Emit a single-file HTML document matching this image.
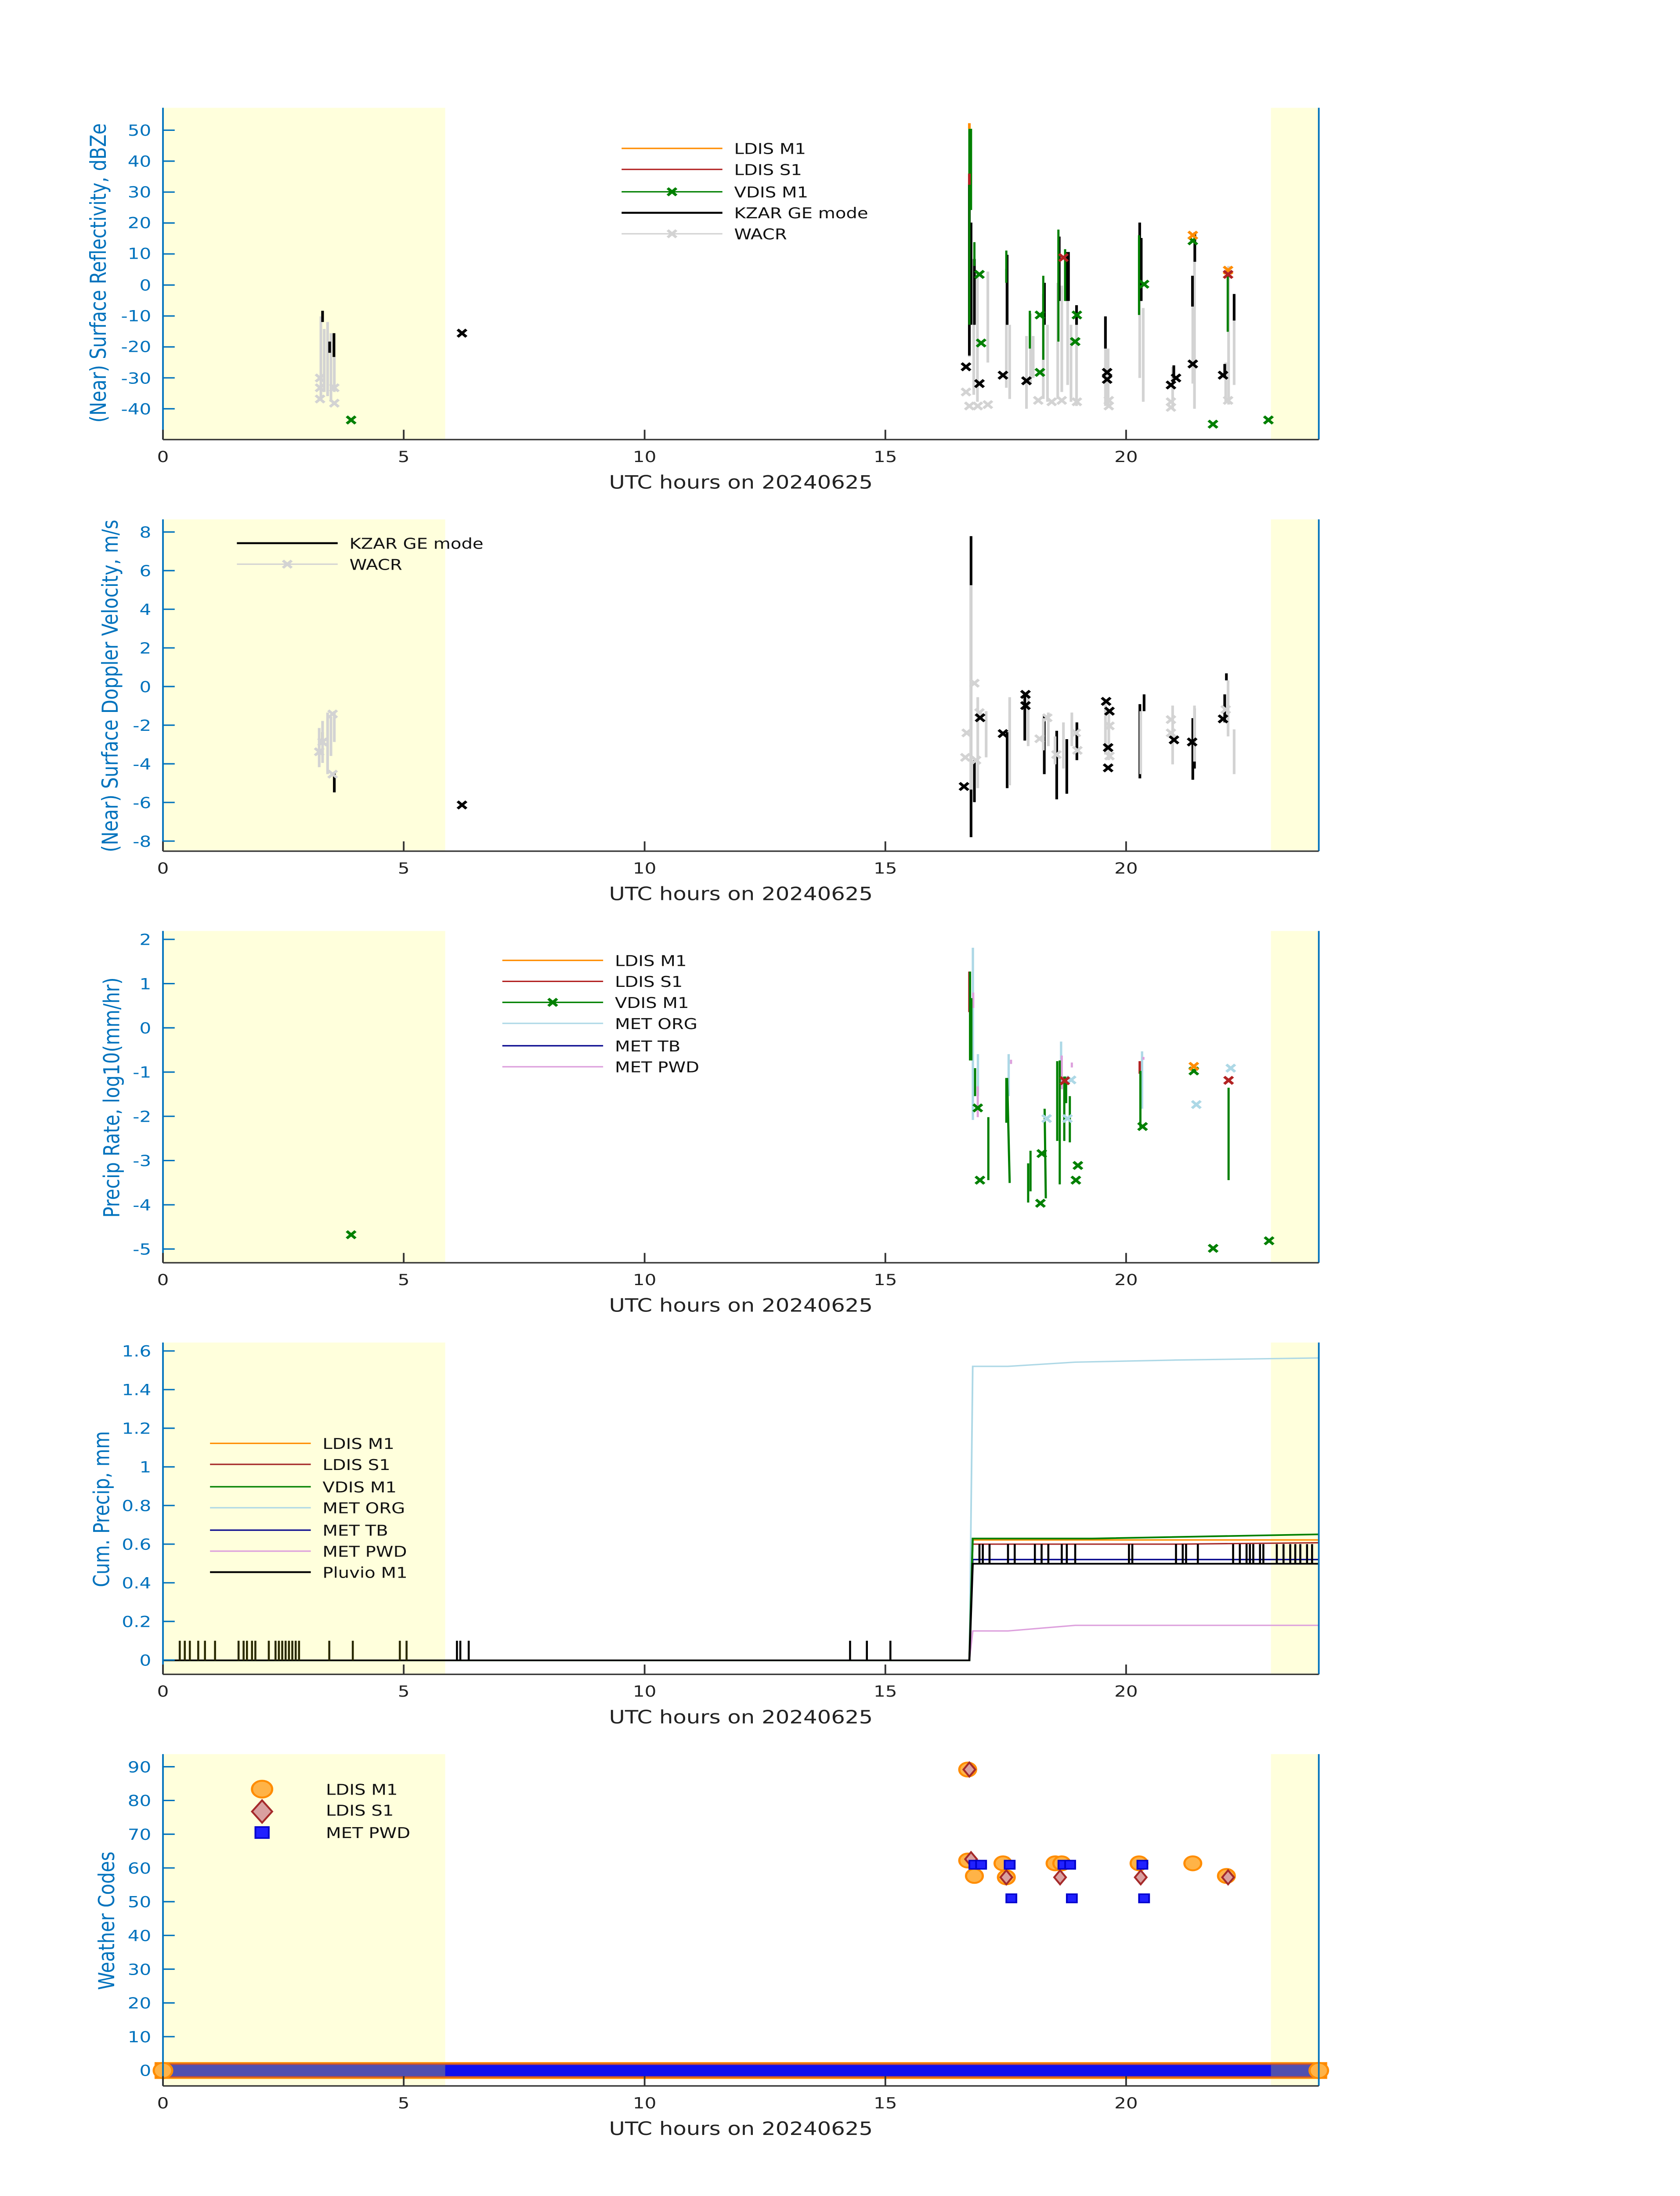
<!DOCTYPE html>
<html><head><meta charset="utf-8"><style>
html,body{margin:0;padding:0;background:#fff;width:100vw;height:100vh;overflow:hidden;}
svg{display:block;width:100vw;height:100vh;}
text{font-family:"DejaVu Sans","Liberation Sans",sans-serif;}
.yt{fill:#0072BD;font-size:11px;text-anchor:end;}
.xt{fill:#222;font-size:11px;text-anchor:middle;}
.xl{fill:#222;font-size:13px;text-anchor:middle;}
.yl{fill:#0072BD;font-size:13px;text-anchor:middle;}
.lg{fill:#111;font-size:10.5px;}
.ax{stroke:#0072BD;stroke-width:1;fill:none;}
.bx{stroke:#333;stroke-width:1;fill:none;}
</style></head><body>
<svg viewBox="0 0 1000 1568.63" preserveAspectRatio="none" xmlns="http://www.w3.org/2000/svg">
<defs>
<path id="xm" d="M-2.6,-2.6L2.6,2.6M-2.6,2.6L2.6,-2.6" stroke-width="1.8" fill="none"/>
</defs>
<rect width="1000" height="1568.63" fill="#fff"/>

<!-- ============ PANEL 1 ============ -->
<rect x="97" y="77" width="168" height="237" fill="#FFFFDC"/>
<rect x="756.5" y="77" width="28.5" height="237" fill="#FFFFDC"/>
<g stroke="#D3D3D3" stroke-width="1.6" fill="none">
<path d="M191,226V285M193,235V280M195,230V283M197,238V287M199,255V280M577,173V255M579.6,185V282M581.8,195V287M588,194V259M599,192V277M601,232V285M611,240V292M613.4,224V274M615,240V270M621,210V285M623.5,232V287M629.6,202V285M632,204V280M635.5,202V275M637.5,232V287M640.8,232V290M658,229V290M659.6,249V289M678.4,188V270M680.5,220V287M698,262V292M710,219V274M711,187V292M729.6,259V287M731.3,190V289M734.6,229V275"/>
</g>
<g stroke="#000" stroke-width="1.6" fill="none">
<path d="M192,222V230M196.2,244V252M198.8,238V255M577,131V254M578,159V232M580,185V232M599.5,182V232M621.7,202V232M630.5,169V215M634.6,180V215M636,180V215M640.8,218V232M658,226V249M678.4,159V188M679.3,170V215M698.7,261V270M709.8,197V219M711.2,166V187M729,260V270M734.6,210V229"/>
</g>
<g stroke="#008000" stroke-width="1.3" fill="none">
<path d="M577,92V232M578,92V150M580,173V190M599,179V202M613,222V249M621,197V257M630,164V244M634,178V215M678,168V225M730.8,195V237"/>
</g>
<path d="M577,88V92" stroke="#FF8C00" stroke-width="1.6"/>
<path d="M577,124V132" stroke="#B22222" stroke-width="1.6"/>
<g stroke="#D3D3D3">
<use href="#xm" x="190.5" y="270"/><use href="#xm" x="190.5" y="277"/><use href="#xm" x="190.5" y="285"/><use href="#xm" x="199" y="277"/><use href="#xm" x="199" y="288"/>
<use href="#xm" x="575" y="280"/><use href="#xm" x="577" y="290"/><use href="#xm" x="582" y="290"/><use href="#xm" x="588" y="289"/><use href="#xm" x="618" y="286"/><use href="#xm" x="626" y="287"/><use href="#xm" x="632" y="286"/><use href="#xm" x="641" y="287"/><use href="#xm" x="660" y="286"/><use href="#xm" x="660" y="290"/><use href="#xm" x="697" y="287"/><use href="#xm" x="697" y="291"/><use href="#xm" x="731" y="286"/>
</g>
<g stroke="#000">
<use href="#xm" x="275" y="238"/><use href="#xm" x="575" y="262"/><use href="#xm" x="597" y="268"/><use href="#xm" x="583" y="274"/><use href="#xm" x="611" y="272"/><use href="#xm" x="659" y="266"/><use href="#xm" x="659" y="271"/><use href="#xm" x="697" y="275"/><use href="#xm" x="700" y="270"/><use href="#xm" x="710" y="260"/><use href="#xm" x="728" y="268"/>
</g>
<g stroke="#008000">
<use href="#xm" x="209" y="300"/><use href="#xm" x="583" y="196"/><use href="#xm" x="584" y="245"/><use href="#xm" x="619" y="225"/><use href="#xm" x="641" y="225"/><use href="#xm" x="640" y="244"/><use href="#xm" x="619" y="266"/><use href="#xm" x="681" y="203"/><use href="#xm" x="710" y="172"/><use href="#xm" x="722" y="303"/><use href="#xm" x="755" y="300"/>
</g>
<g stroke="#FF8C00"><use href="#xm" x="710" y="168"/><use href="#xm" x="731" y="193"/></g>
<g stroke="#B22222"><use href="#xm" x="731" y="196"/><use href="#xm" x="633" y="184"/></g>
<path class="ax" d="M97,77V314M785,77V314"/>
<path class="bx" d="M97,314H785"/>
<path class="bx" d="M97,314V307M240.3,314V307M383.7,314V307M527,314V307M670.3,314V307"/>
<path class="ax" d="M97,93h7M97,115.1h7M97,137.2h7M97,159.3h7M97,181.4h7M97,203.6h7M97,225.7h7M97,247.8h7M97,269.9h7M97,292h7"/>
<g class="yt"><text x="90" y="97">50</text><text x="90" y="119">40</text><text x="90" y="141">30</text><text x="90" y="163">20</text><text x="90" y="185">10</text><text x="90" y="207.5">0</text><text x="90" y="229.5">-10</text><text x="90" y="251.5">-20</text><text x="90" y="274">-30</text><text x="90" y="296">-40</text></g>
<g class="xt"><text x="97" y="330">0</text><text x="240.3" y="330">5</text><text x="383.7" y="330">10</text><text x="527" y="330">15</text><text x="670.3" y="330">20</text></g>
<text class="xl" x="441" y="349">UTC hours on 20240625</text>
<text class="yl" transform="translate(63,195) rotate(-90)">(Near) Surface Reflectivity, dBZe</text>
<path d="M370,106H430" stroke="#FF8C00" stroke-width="1"/><path d="M370,121H430" stroke="#B22222" stroke-width="1"/><path d="M370,137H430" stroke="#008000" stroke-width="1"/><use href="#xm" x="400" y="137" stroke="#008000"/><path d="M370,152H430" stroke="#000" stroke-width="1.4"/><path d="M370,167H430" stroke="#D3D3D3" stroke-width="1"/><use href="#xm" x="400" y="167" stroke="#D3D3D3"/>
<g class="lg"><text x="437" y="110">LDIS M1</text><text x="437" y="125">LDIS S1</text><text x="437" y="141">VDIS M1</text><text x="437" y="156">KZAR GE mode</text><text x="437" y="171">WACR</text></g>

<!-- ============ PANEL 2 ============ -->
<rect x="97" y="371" width="168" height="237" fill="#FFFFDC"/>
<rect x="756.5" y="371" width="28.5" height="237" fill="#FFFFDC"/>
<g stroke="#000" stroke-width="1.6" fill="none">
<path d="M192,523V531M199,552V566M578,383V598M580,543V573M599.5,523V563M610,496V529M621.6,511V553M629,522V571M635,528V567M641,516V543M678.5,503V556M681,496V508M710,513V557M711,506V549M729,496V516M730,481V486"/>
</g>
<g stroke="#D3D3D3" stroke-width="1.6" fill="none">
<path d="M190,520V548M192,515V545M195,509V553M197,512V540M199,508V530M578,418V564M582,498V563M587,508V541M601,498V561M612,496V533M621,513V536M624,509V533M628,526V546M633,516V549M638,509V533M658,503V539M660,509V543M679,508V553M698,504V546M711,504V544M731,486V526M734.6,521V553"/>
</g>
<g stroke="#D3D3D3">
<use href="#xm" x="190" y="537"/><use href="#xm" x="192" y="530"/><use href="#xm" x="198" y="510"/><use href="#xm" x="198" y="553"/>
<use href="#xm" x="580" y="488"/><use href="#xm" x="575.4" y="523.5"/><use href="#xm" x="574.6" y="541"/><use href="#xm" x="581" y="543"/><use href="#xm" x="583" y="509"/><use href="#xm" x="623.4" y="512.7"/><use href="#xm" x="618.8" y="527.7"/><use href="#xm" x="628.8" y="539"/><use href="#xm" x="641.3" y="536"/><use href="#xm" x="640.4" y="523.5"/><use href="#xm" x="660.4" y="518.5"/><use href="#xm" x="660.4" y="540"/><use href="#xm" x="697" y="514"/><use href="#xm" x="697" y="523.5"/><use href="#xm" x="729.6" y="506.8"/>
</g>
<g stroke="#000">
<use href="#xm" x="275" y="575"/><use href="#xm" x="573.8" y="561.8"/><use href="#xm" x="597" y="524"/><use href="#xm" x="610.4" y="496"/><use href="#xm" x="610.4" y="504"/><use href="#xm" x="583.4" y="512.7"/><use href="#xm" x="658.4" y="501"/><use href="#xm" x="660.4" y="508"/><use href="#xm" x="659.6" y="534"/><use href="#xm" x="659.6" y="548.5"/><use href="#xm" x="698.8" y="528.5"/><use href="#xm" x="709.6" y="530"/><use href="#xm" x="728" y="513.5"/>
</g>
<path class="ax" d="M97,371V608M785,371V608"/>
<path class="bx" d="M97,608H785"/>
<path class="bx" d="M97,608V601M240.3,608V601M383.7,608V601M527,608V601M670.3,608V601"/>
<path class="ax" d="M97,380h7M97,407.6h7M97,435.2h7M97,462.8h7M97,490.4h7M97,518h7M97,545.6h7M97,573.2h7M97,600.8h7"/>
<g class="yt"><text x="90" y="384">8</text><text x="90" y="411.6">6</text><text x="90" y="439.2">4</text><text x="90" y="466.8">2</text><text x="90" y="494.4">0</text><text x="90" y="522">-2</text><text x="90" y="549.6">-4</text><text x="90" y="577.2">-6</text><text x="90" y="604.8">-8</text></g>
<g class="xt"><text x="97" y="624">0</text><text x="240.3" y="624">5</text><text x="383.7" y="624">10</text><text x="527" y="624">15</text><text x="670.3" y="624">20</text></g>
<text class="xl" x="441" y="643">UTC hours on 20240625</text>
<text class="yl" transform="translate(70,490) rotate(-90)">(Near) Surface Doppler Velocity, m/s</text>
<path d="M141,388H201" stroke="#000" stroke-width="1.4"/><path d="M141,403H201" stroke="#D3D3D3" stroke-width="1"/><use href="#xm" x="171" y="403" stroke="#D3D3D3"/>
<g class="lg"><text x="208" y="392">KZAR GE mode</text><text x="208" y="407">WACR</text></g>

<!-- ============ PANEL 3 ============ -->
<rect x="97" y="665" width="168" height="237" fill="#FFFFDC"/>
<rect x="756.5" y="665" width="28.5" height="237" fill="#FFFFDC"/>
<g stroke="#ADD8E6" stroke-width="1.4" fill="none">
<path d="M579.1,677V800M582.1,753V783M600.4,753V783M631.6,744V778M679.8,751V792"/>
</g>
<g stroke="#DDA0DD" stroke-width="1.3" fill="none">
<path d="M579.3,709V720M582,776V798M601.8,757V760M632,754V778M638,759V762.5M680.6,755V757"/>
</g>
<g stroke="#B22222" stroke-width="1.4" fill="none"><path d="M577,694V723M678.4,758V767M633.7,770V775"/></g>
<g stroke="#008000" stroke-width="1.3" fill="none">
<path d="M577.4,694V757.5M578.2,713V757.5M580.4,763V783M588.3,798V843M599,770V802M599.5,770L601,845M612,831V859M613.4,822V851M621.8,792L622.5,856M629.3,758V815M630.8,757.5V846M633.5,769V815M634.6,769V788M636.8,783V816M678.8,765V805M731.3,777V843"/>
</g>
<g stroke="#008000">
<use href="#xm" x="209" y="882"/><use href="#xm" x="582" y="791.4"/><use href="#xm" x="583.3" y="843"/><use href="#xm" x="620.1" y="824"/><use href="#xm" x="619.3" y="859.5"/><use href="#xm" x="641.6" y="832.5"/><use href="#xm" x="640.4" y="843"/><use href="#xm" x="680.1" y="804.7"/><use href="#xm" x="710.6" y="765"/><use href="#xm" x="722.1" y="891.7"/><use href="#xm" x="755.4" y="886.3"/>
</g>
<g stroke="#ADD8E6">
<use href="#xm" x="623" y="799"/><use href="#xm" x="635.4" y="799"/><use href="#xm" x="637.6" y="771.4"/><use href="#xm" x="712.1" y="789"/><use href="#xm" x="732.6" y="763"/>
</g>
<use href="#xm" x="710.6" y="761.7" stroke="#FF8C00"/>
<g stroke="#B22222"><use href="#xm" x="731.3" y="771.7"/><use href="#xm" x="633.8" y="772"/></g>
<path class="ax" d="M97,665V902M785,665V902"/>
<path class="bx" d="M97,902H785"/>
<path class="bx" d="M97,902V895M240.3,902V895M383.7,902V895M527,902V895M670.3,902V895"/>
<path class="ax" d="M97,671h7M97,702.6h7M97,734.2h7M97,765.8h7M97,797.4h7M97,829h7M97,860.6h7M97,892.2h7"/>
<g class="yt"><text x="90" y="675">2</text><text x="90" y="706.6">1</text><text x="90" y="738.2">0</text><text x="90" y="769.8">-1</text><text x="90" y="801.4">-2</text><text x="90" y="833">-3</text><text x="90" y="864.6">-4</text><text x="90" y="896.2">-5</text></g>
<g class="xt"><text x="97" y="918">0</text><text x="240.3" y="918">5</text><text x="383.7" y="918">10</text><text x="527" y="918">15</text><text x="670.3" y="918">20</text></g>
<text class="xl" x="441" y="937">UTC hours on 20240625</text>
<text class="yl" transform="translate(71,784) rotate(-90)">Precip Rate, log10(mm/hr)</text>
<path d="M299,686H359" stroke="#FF8C00"/><path d="M299,701H359" stroke="#B22222"/><path d="M299,716H359" stroke="#008000"/><use href="#xm" x="329" y="716" stroke="#008000"/><path d="M299,731H359" stroke="#ADD8E6"/><path d="M299,747H359" stroke="#00008B"/><path d="M299,762H359" stroke="#DDA0DD"/>
<g class="lg"><text x="366" y="690">LDIS M1</text><text x="366" y="705">LDIS S1</text><text x="366" y="720">VDIS M1</text><text x="366" y="735">MET ORG</text><text x="366" y="751">MET TB</text><text x="366" y="766">MET PWD</text></g>

<!-- ============ PANEL 4 ============ -->
<rect x="97" y="959" width="168" height="237" fill="#FFFFDC"/>
<rect x="756.5" y="959" width="28.5" height="237" fill="#FFFFDC"/>
<g fill="none" stroke-width="1">
<path d="M97,1186H577L579,976H600L640,973L700,971.5L785,970" stroke="#ADD8E6"/>
<path d="M97,1186H577L579,1165H600L640,1161H785" stroke="#DDA0DD"/>
<path d="M97,1186H577L579,1114H785" stroke="#00008B"/>
<path d="M97,1186H577L579,1103H700L785,1102" stroke="#A52A2A"/>
<path d="M97,1186H577L579,1100H785" stroke="#FF8C00"/>
<path d="M97,1186H577L579,1099H650L785,1096" stroke="#008000" stroke-width="1.2"/>
<path d="M97,1186H577L579,1117H785" stroke="#000" stroke-width="1.2"/>
<path d="M107,1186V1172M110,1186V1172M113,1186V1172M118,1186V1172M122,1186V1172M128,1186V1172M142,1186V1172M145,1186V1172M147,1186V1172M150,1186V1172M152,1186V1172M160,1186V1172M164,1186V1172M166,1186V1172M168,1186V1172M170,1186V1172M172,1186V1172M174,1186V1172M176,1186V1172M178,1186V1172M196,1186V1172M210,1186V1172M238,1186V1172M242,1186V1172" stroke="#2a2a00" stroke-width="1.2"/>
<path d="M272,1186V1172M274,1186V1172M279,1186V1172M506,1186V1172M516,1186V1172M530,1186V1172" stroke="#000" stroke-width="1.2"/>
<path d="M583,1117V1103M585,1117V1103M589,1117V1103M600,1117V1103M604,1117V1103M616,1117V1103M620,1117V1103M624,1117V1103M632,1117V1103M635,1117V1103M640,1117V1103M672,1117V1103M674,1117V1103M700,1117V1103M704,1117V1103M706,1117V1103M713,1117V1103M734,1117V1103M738,1117V1103M742,1117V1103M744,1117V1103M746,1117V1103M750,1117V1103M752,1117V1103M760,1117V1103M764,1117V1103M768,1117V1103M771,1117V1103M774,1117V1103M778,1117V1103M781,1117V1103" stroke="#000" stroke-width="1.2"/>
</g>
<path class="ax" d="M97,959V1196M785,959V1196"/>
<path class="bx" d="M97,1196H785"/>
<path class="bx" d="M97,1196V1189M240.3,1196V1189M383.7,1196V1189M527,1196V1189M670.3,1196V1189"/>
<path class="ax" d="M97,965h7M97,992.6h7M97,1020.2h7M97,1047.8h7M97,1075.4h7M97,1103h7M97,1130.6h7M97,1158.2h7M97,1185.8h7"/>
<g class="yt"><text x="90" y="969">1.6</text><text x="90" y="996.6">1.4</text><text x="90" y="1024.2">1.2</text><text x="90" y="1051.8">1</text><text x="90" y="1079.4">0.8</text><text x="90" y="1107">0.6</text><text x="90" y="1134.6">0.4</text><text x="90" y="1162.2">0.2</text><text x="90" y="1189.8">0</text></g>
<g class="xt"><text x="97" y="1212">0</text><text x="240.3" y="1212">5</text><text x="383.7" y="1212">10</text><text x="527" y="1212">15</text><text x="670.3" y="1212">20</text></g>
<text class="xl" x="441" y="1231">UTC hours on 20240625</text>
<text class="yl" transform="translate(65,1078) rotate(-90)">Cum. Precip, mm</text>
<path d="M125,1031H185" stroke="#FF8C00"/><path d="M125,1046H185" stroke="#A52A2A"/><path d="M125,1062H185" stroke="#008000"/><path d="M125,1077H185" stroke="#ADD8E6"/><path d="M125,1093H185" stroke="#00008B"/><path d="M125,1108H185" stroke="#DDA0DD"/><path d="M125,1123H185" stroke="#000" stroke-width="1.3"/>
<g class="lg"><text x="192" y="1035">LDIS M1</text><text x="192" y="1050">LDIS S1</text><text x="192" y="1066">VDIS M1</text><text x="192" y="1081">MET ORG</text><text x="192" y="1097">MET TB</text><text x="192" y="1112">MET PWD</text><text x="192" y="1127">Pluvio M1</text></g>

<!-- ============ PANEL 5 ============ -->
<rect x="97" y="1253" width="168" height="237" fill="#FFFFDC"/>
<rect x="756.5" y="1253" width="28.5" height="237" fill="#FFFFDC"/>
<rect x="92" y="1473" width="698" height="12" fill="#FF8C00"/>
<rect x="93" y="1474" width="696" height="10" fill="#C0503A"/>
<rect x="93" y="1475" width="696" height="8" fill="#1010EE"/>
<rect x="97" y="1475" width="168" height="8" fill="#5050B0"/>
<rect x="756.5" y="1475" width="28.5" height="8" fill="#5050B0"/>
<circle cx="97" cy="1479" r="5.5" fill="#FFB347" stroke="#FF8C00" stroke-width="1.3"/>
<circle cx="785" cy="1479" r="5.5" fill="#FFB347" stroke="#FF8C00" stroke-width="1.3"/>
<g fill="#FFB347" stroke="#FF8C00" stroke-width="1.3">
<circle cx="576" cy="1264" r="5"/><circle cx="576" cy="1329" r="5"/><circle cx="580" cy="1340" r="5"/><circle cx="597" cy="1331" r="5"/><circle cx="599" cy="1341" r="5"/><circle cx="628" cy="1331" r="5"/><circle cx="632" cy="1331" r="5"/><circle cx="678" cy="1331" r="5"/><circle cx="710" cy="1331" r="5"/><circle cx="730" cy="1340" r="5"/>
</g>
<g fill="#D9A0A0" stroke="#A52A2A" stroke-width="1.2">
<path d="M577,1259l3.5,5l-3.5,5l-3.5,-5z"/><path d="M578,1323l3.5,5l-3.5,5l-3.5,-5z"/><path d="M599,1336l3.5,5l-3.5,5l-3.5,-5z"/><path d="M631,1336l3.5,5l-3.5,5l-3.5,-5z"/><path d="M679,1336l3.5,5l-3.5,5l-3.5,-5z"/><path d="M731,1336l3.5,5l-3.5,5l-3.5,-5z"/>
</g>
<g fill="#2020FF" stroke="#0000CC" stroke-width="1">
<rect x="577" y="1329" width="6" height="6"/><rect x="581" y="1329" width="6" height="6"/><rect x="598" y="1329" width="6" height="6"/><rect x="599" y="1353" width="6" height="6"/><rect x="630" y="1329" width="6" height="6"/><rect x="634" y="1329" width="6" height="6"/><rect x="635" y="1353" width="6" height="6"/><rect x="677" y="1329" width="6" height="6"/><rect x="678" y="1353" width="6" height="6"/>
</g>
<path class="ax" d="M97,1253V1490M785,1253V1490"/>
<path class="bx" d="M97,1490H785"/>
<path class="bx" d="M97,1490V1483M240.3,1490V1483M383.7,1490V1483M527,1490V1483M670.3,1490V1483"/>
<path class="ax" d="M97,1262h7M97,1286.1h7M97,1310.2h7M97,1334.3h7M97,1358.4h7M97,1382.5h7M97,1406.6h7M97,1430.7h7M97,1454.8h7"/>
<g class="yt"><text x="90" y="1266">90</text><text x="90" y="1290.1">80</text><text x="90" y="1314.2">70</text><text x="90" y="1338.3">60</text><text x="90" y="1362.4">50</text><text x="90" y="1386.5">40</text><text x="90" y="1410.6">30</text><text x="90" y="1434.7">20</text><text x="90" y="1458.8">10</text><text x="90" y="1482.9">0</text></g>
<g class="xt"><text x="97" y="1506">0</text><text x="240.3" y="1506">5</text><text x="383.7" y="1506">10</text><text x="527" y="1506">15</text><text x="670.3" y="1506">20</text></g>
<text class="xl" x="441" y="1525">UTC hours on 20240625</text>
<text class="yl" transform="translate(68,1372) rotate(-90)">Weather Codes</text>
<circle cx="156" cy="1278" r="6" fill="#FFB347" stroke="#FF8C00" stroke-width="1.3"/>
<path d="M156,1286l6,8l-6,8l-6,-8z" fill="#D9A0A0" stroke="#A52A2A" stroke-width="1.2"/>
<rect x="152" y="1305" width="8" height="8" fill="#2020FF" stroke="#0000CC"/>
<g class="lg"><text x="194" y="1282">LDIS M1</text><text x="194" y="1297">LDIS S1</text><text x="194" y="1313">MET PWD</text></g>
</svg>
</body></html>
